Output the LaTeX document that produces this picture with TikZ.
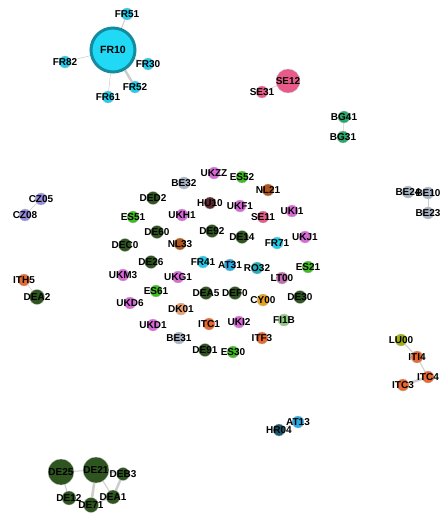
\documentclass[tikz,border=0pt]{standalone}
\usepackage{fontspec}
\setmainfont{Liberation Sans}
\usepackage{xcolor}
\usepackage{tikz}
\usetikzlibrary{backgrounds}
\pgfdeclarelayer{edgelayer}
\pgfdeclarelayer{nodelayer}
\pgfsetlayers{background,edgelayer,nodelayer,main}
\definecolor{frcol}{RGB}{30,205,235}
\definecolor{frbig}{RGB}{32,218,245}
\definecolor{frdark}{RGB}{20,140,160}
\definecolor{secol}{RGB}{232,90,138}
\definecolor{bgcol}{RGB}{40,168,106}
\definecolor{czcol}{RGB}{150,140,224}
\definecolor{itcol}{RGB}{232,104,48}
\definecolor{decol}{RGB}{46,84,32}
\definecolor{ukcol}{RGB}{216,104,216}
\definecolor{becol}{RGB}{168,180,196}
\definecolor{escol}{RGB}{60,190,32}
\definecolor{hucol}{RGB}{92,40,48}
\definecolor{nlcol}{RGB}{176,86,26}
\definecolor{atcol}{RGB}{40,170,226}
\definecolor{rocol}{RGB}{30,176,192}
\definecolor{ltcol}{RGB}{192,110,176}
\definecolor{cycol}{RGB}{232,160,32}
\definecolor{ficol}{RGB}{144,204,128}
\definecolor{dkcol}{RGB}{232,160,112}
\definecolor{lucol}{RGB}{160,176,16}
\definecolor{hrcol}{RGB}{26,90,112}
\definecolor{edgecol}{RGB}{205,205,205}
\tikzstyle{none}=[inner sep=0mm]
\tikzstyle{lab}=[inner sep=0pt,font=\bfseries\fontsize{10}{10}\selectfont,text=black]
\tikzstyle{region}=[shape=circle,inner sep=0pt,minimum size=12pt,draw=black!25,line width=0.3pt]
\tikzstyle{frn}=[region,fill=frcol]
\tikzstyle{sen}=[region,fill=secol]
\tikzstyle{bgn}=[region,fill=bgcol]
\tikzstyle{czn}=[region,fill=czcol]
\tikzstyle{itn}=[region,fill=itcol]
\tikzstyle{den}=[region,fill=decol,minimum size=13pt]
\tikzstyle{ukn}=[region,fill=ukcol]
\tikzstyle{ben}=[region,fill=becol]
\tikzstyle{esn}=[region,fill=escol]
\tikzstyle{hun}=[region,fill=hucol]
\tikzstyle{nln}=[region,fill=nlcol]
\tikzstyle{atn}=[region,fill=atcol]
\tikzstyle{ron}=[region,fill=rocol]
\tikzstyle{ltn}=[region,fill=ltcol]
\tikzstyle{cyn}=[region,fill=cycol]
\tikzstyle{fin}=[region,fill=ficol]
\tikzstyle{dkn}=[region,fill=dkcol]
\tikzstyle{lun}=[region,fill=lucol]
\tikzstyle{hrn}=[region,fill=hrcol]
\tikzstyle{link}=[draw=edgecol,line width=1pt]
\tikzstyle{thin link}=[link,line width=0.5pt]
\tikzstyle{thick link}=[link,line width=2.5pt]
\begin{document}
\begin{tikzpicture}[x=1pt,y=-1pt]
	\useasboundingbox (0,0) rectangle (446,513);
	\begin{pgfonlayer}{nodelayer}
		% France
		\node [frn,fill=frbig,minimum size=44pt,draw=frdark,line width=3pt,label={[lab,font=\bfseries\fontsize{10.5}{10.5}\selectfont]center:FR10}] (FR10) at (113,50) {};
		\node [frn,label={[lab]center:FR51}] (FR51) at (127,14) {};
		\node [frn,label={[lab]center:FR82}] (FR82) at (65,62) {};
		\node [frn,label={[lab]center:FR30}] (FR30) at (148,64) {};
		\node [frn,label={[lab]center:FR52}] (FR52) at (135,87) {};
		\node [frn,label={[lab]center:FR61}] (FR61) at (108,97) {};
		% small groups
		\node [sen,minimum size=24pt,label={[lab]center:SE12}] (SE12) at (288,81) {};
		\node [sen,label={[lab]center:SE31}] (SE31) at (262,92) {};
		\node [bgn,label={[lab]center:BG41}] (BG41) at (344,117) {};
		\node [bgn,label={[lab]center:BG31}] (BG31) at (343,137) {};
		\node [czn,label={[lab]center:CZ05}] (CZ05) at (41,199) {};
		\node [czn,label={[lab]center:CZ08}] (CZ08) at (25,215) {};
		\node [itn,label={[lab]center:ITH5}] (ITH5) at (24,280) {};
		\node [den,minimum size=15pt,label={[lab]center:DEA2}] (DEA2) at (37,297) {};
		\node [ben,label={[lab]center:BE24}] (BE24) at (408,192) {};
		\node [ben,label={[lab]center:BE10}] (BE10) at (428,193) {};
		\node [ben,label={[lab]center:BE23}] (BE23) at (428,213) {};
		\node [lun,label={[lab]center:LU00}] (LU00) at (401,340) {};
		\node [itn,label={[lab]center:ITI4}] (ITI4) at (417,357) {};
		\node [itn,label={[lab]center:ITC4}] (ITC4) at (428,377) {};
		\node [itn,label={[lab]center:ITC3}] (ITC3) at (403,385) {};
		\node [atn,label={[lab]center:AT13}] (AT13) at (298,422) {};
		\node [hrn,label={[lab]center:HR04}] (HR04) at (279,430) {};
		% germany
		\node [den,minimum size=26pt,label={[lab]center:DE25}] (DE25) at (61,472) {};
		\node [den,minimum size=26pt,label={[lab]center:DE21}] (DE21) at (96,470) {};
		\node [den,label={[lab]center:DEB3}] (DEB3) at (123,474) {};
		\node [den,minimum size=14pt,label={[lab]center:DE12}] (DE12) at (69,498) {};
		\node [den,minimum size=14pt,label={[lab]center:DEA1}] (DEA1) at (113,497) {};
		\node [den,minimum size=15pt,label={[lab]center:DE71}] (DE71) at (91,505) {};
		% isolated regions
		\node [ukn,label={[lab]center:UKZZ}] (UKZZ) at (214,173) {};
		\node [ben,label={[lab]center:BE32}] (BE32) at (184,183) {};
		\node [esn,label={[lab]center:ES52}] (ES52) at (242,177) {};
		\node [den,label={[lab]center:DED2}] (DED2) at (153,198) {};
		\node [nln,label={[lab]center:NL21}] (NL21) at (268,190) {};
		\node [hun,label={[lab]center:HU10}] (HU10) at (210,203) {};
		\node [ukn,label={[lab]center:UKF1}] (UKF1) at (240,206) {};
		\node [ukn,label={[lab]center:UKI1}] (UKI1) at (292,211) {};
		\node [esn,label={[lab]center:ES51}] (ES51) at (133,217) {};
		\node [ukn,label={[lab]center:UKH1}] (UKH1) at (182,215) {};
		\node [sen,label={[lab]center:SE11}] (SE11) at (263,217) {};
		\node [den,label={[lab]center:DE60}] (DE60) at (157,232) {};
		\node [den,label={[lab]center:DE92}] (DE92) at (212,231) {};
		\node [den,label={[lab]center:DE14}] (DE14) at (242,237) {};
		\node [ukn,label={[lab]center:UKJ1}] (UKJ1) at (305,237) {};
		\node [den,label={[lab]center:DEC0}] (DEC0) at (125,245) {};
		\node [nln,label={[lab]center:NL33}] (NL33) at (180,244) {};
		\node [frn,label={[lab]center:FR71}] (FR71) at (277,243) {};
		\node [den,label={[lab]center:DE26}] (DE26) at (151,262) {};
		\node [frn,label={[lab]center:FR41}] (FR41) at (203,262) {};
		\node [atn,label={[lab]center:AT31}] (AT31) at (230,265) {};
		\node [ron,label={[lab]center:RO32}] (RO32) at (257,268) {};
		\node [esn,label={[lab]center:ES21}] (ES21) at (308,267) {};
		\node [ukn,label={[lab]center:UKM3}] (UKM3) at (123,275) {};
		\node [ukn,label={[lab]center:UKG1}] (UKG1) at (178,277) {};
		\node [ltn,label={[lab]center:LT00}] (LT00) at (282,278) {};
		\node [esn,label={[lab]center:ES61}] (ES61) at (156,291) {};
		\node [den,label={[lab]center:DEA5}] (DEA5) at (206,293) {};
		\node [den,label={[lab]center:DEF0}] (DEF0) at (235,293) {};
		\node [cyn,label={[lab]center:CY00}] (CY00) at (263,300) {};
		\node [den,label={[lab]center:DE30}] (DE30) at (300,297) {};
		\node [ukn,label={[lab]center:UKD6}] (UKD6) at (130,303) {};
		\node [dkn,label={[lab]center:DK01}] (DK01) at (181,309) {};
		\node [ukn,label={[lab]center:UKD1}] (UKD1) at (153,325) {};
		\node [itn,label={[lab]center:ITC1}] (ITC1) at (209,324) {};
		\node [ukn,label={[lab]center:UKI2}] (UKI2) at (239,322) {};
		\node [fin,label={[lab]center:FI1B}] (FI1B) at (284,320) {};
		\node [ben,label={[lab]center:BE31}] (BE31) at (179,338) {};
		\node [itn,label={[lab]center:ITF3}] (ITF3) at (262,338) {};
		\node [den,label={[lab]center:DE91}] (DE91) at (205,350) {};
		\node [esn,label={[lab]center:ES30}] (ES30) at (233,352) {};
	\end{pgfonlayer}
	\begin{pgfonlayer}{edgelayer}
		\draw [link] (FR10) to (FR51);
		\draw [thin link] (FR10) to (FR82);
		\draw [thin link] (FR10) to (FR30);
		\draw [thick link] (FR10) to (FR52);
		\draw [thin link] (FR10) to (FR61);
		\draw [thin link] (SE12) to (SE31);
		\draw [thin link] (BG41) to (BG31);
		\draw [thin link] (CZ05) to (CZ08);
		\draw [thin link] (ITH5) to (DEA2);
		\draw [link] (BE24) to (BE10);
		\draw [thin link] (BE10) to (BE23);
		\draw [link] (LU00) to (ITI4);
		\draw [link] (ITI4) to (ITC4);
		\draw [thick link] (ITC4) to (ITC3);
		\draw [thin link] (AT13) to (HR04);
		\draw [link] (DE25) to (DE21);
		\draw [link] (DE25) to (DE12);
		\draw [thick link] (DE21) to (DE71);
		\draw [link] (DE21) to (DEA1);
		\draw [link] (DE21) to (DEB3);
		\draw [thick link] (DEB3) to (DEA1);
		\draw [link] (DE71) to (DEA1);
	\end{pgfonlayer}
\end{tikzpicture}
\end{document}
